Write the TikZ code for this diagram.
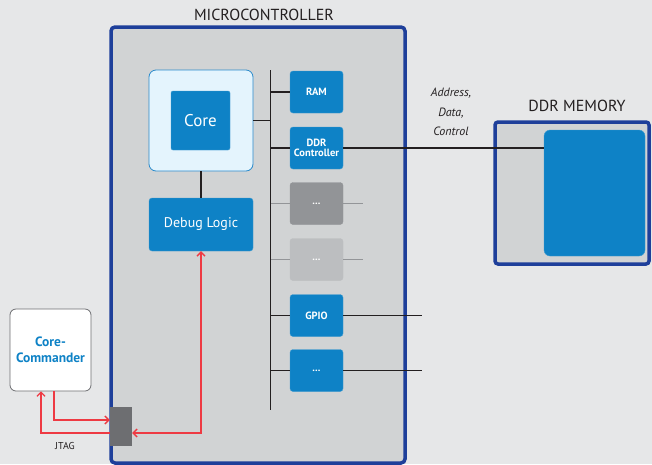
\documentclass[tikz,border=0pt]{standalone}
\usepackage{fontspec}
\setmainfont{PT Sans}
\usetikzlibrary{arrows.meta}
\definecolor{bg}{HTML}{E6E7E8}
\definecolor{mcufill}{HTML}{D1D3D4}
\definecolor{mcuborder}{HTML}{1E3F9A}
\definecolor{blk}{HTML}{0E82C6}
\definecolor{lblue}{HTML}{E4F4FD}
\definecolor{lborder}{HTML}{2A8ACB}
\definecolor{gbox}{HTML}{929497}
\definecolor{gbox2}{HTML}{BCBEC0}
\definecolor{gline}{HTML}{939598}
\definecolor{redl}{HTML}{EE3A43}
\definecolor{jtagc}{HTML}{6D6E71}
\definecolor{txt}{HTML}{231F20}
\begin{document}
\begin{tikzpicture}[x=1pt,y=-1pt,
  bluebox/.style={fill=blk,draw=blk!80!white,rounded corners=3pt,text=white,inner sep=0pt,align=center},
  periph/.style={bluebox,minimum width=53pt,minimum height=42pt,font=\bfseries\fontsize{10.5}{11}\selectfont},
  busline/.style={line width=1.7pt,draw=txt},
  grayline/.style={line width=1.7pt,draw=gline},
  redline/.style={draw=redl,line width=1.3pt,arrows={-Straight Barb[length=4pt,width=8pt]}},
  lbl/.style={text=txt,inner sep=0pt}
]
\fill[bg] (0,0) rectangle (652,464);
\useasboundingbox (0,0) rectangle (652,464);
% Microcontroller
\node[draw=mcuborder,fill=mcufill,line width=3.5pt,rounded corners=4pt,minimum width=294pt,minimum height=436pt,inner sep=0pt] (mcu) at (258,245) {};
\node[lbl,font=\fontsize{16}{18}\selectfont] (mcut) at (264,15) {MICROCONTROLLER};
% DDR memory
\node[draw=mcuborder,fill=mcufill,line width=3.5pt,rounded corners=3pt,minimum width=154pt,minimum height=142pt,inner sep=0pt] (ddrm) at (572,193) {};
\node[lbl,font=\fontsize{16}{18}\selectfont] (ddrt) at (577,106) {DDR MEMORY};
\node[bluebox,rounded corners=6pt,minimum width=101pt,minimum height=126pt] (mem) at (594.5,193) {};
% Core
\node[draw=lborder,fill=lblue,line width=0.8pt,rounded corners=7pt,minimum width=104pt,minimum height=101pt,inner sep=0pt] (coreout) at (201,120.5) {};
\node[bluebox,rounded corners=2pt,minimum width=59pt,minimum height=59pt,font=\fontsize{17}{19}\selectfont] (core) at (200.5,120.5) {Core};
\node[bluebox,minimum width=104pt,minimum height=53pt,font=\fontsize{14}{16}\selectfont] (debug) at (201,224.5) {Debug Logic};
\draw[busline] (coreout.south -| debug.north) -- (debug.north);
% bus
\coordinate (bustop) at (270.5,70);
\coordinate (busbot) at (270.5,410);
\draw[busline] (bustop) -- (busbot);
\draw[busline] (coreout.east) -- (coreout.east -| bustop);
% peripherals
\node[periph] (ram) at (316.5,92) {RAM};
\node[periph] (ddrc) at (316.5,148) {DDR\\[-1pt]Controller};
\node[periph,fill=gbox,draw=gbox] (g1) at (316.5,203.5) {...};
\node[periph,fill=gbox2,draw=gbox2] (g2) at (316.5,259.5) {...};
\node[periph] (gpio) at (316.5,315.5) {GPIO};
\node[periph] (p6) at (316.5,370.5) {...};
\draw[busline] (ram.west) -- (ram.west -| bustop);
\draw[busline] (ddrc.west) -- (ddrc.west -| bustop);
\draw[grayline] (g1.west) -- (g1.west -| bustop);
\draw[grayline] (g2.west) -- (g2.west -| bustop);
\draw[busline] (gpio.west) -- (gpio.west -| bustop);
\draw[busline] (p6.west) -- (p6.west -| bustop);
\coordinate (g1e) at (363,203.5);
\coordinate (g2e) at (363,259.5);
\coordinate (gpioe) at (422,315.5);
\coordinate (p6e) at (422,370.5);
\draw[grayline] (g1.east) -- (g1e);
\draw[grayline] (g2.east) -- (g2e);
\draw[busline] (gpio.east) -- (gpioe);
\draw[busline] (p6.east) -- (p6e);
\draw[busline] (ddrc.east) -- (ddrc.east -| mem.west);
\node[lbl,font=\itshape\fontsize{12}{19.5}\selectfont,align=center] (adc) at (451,112) {Address,\\Data,\\Control};
% Core-Commander
\node[draw=jtagc,fill=white,line width=0.8pt,rounded corners=6pt,minimum width=81pt,minimum height=82pt,inner sep=0pt,align=center,text=blk,font=\bfseries\fontsize{13.5}{16}\selectfont] (cc) at (50.5,350) {Core-\\Commander};
\node[fill=jtagc,minimum width=22pt,minimum height=39pt,inner sep=0pt] (jtag) at (121,426.5) {};
\node[lbl,font=\fontsize{10}{11}\selectfont] (jtagt) at (65,446) {JTAG};
\draw[redline] ([xshift=3.5pt]cc.south) |- ([yshift=6.5pt]jtag.west);
\draw[redline] ([yshift=-6.5pt]jtag.west) -| ([xshift=-9.5pt]cc.south);
\draw[redline,arrows={Straight Barb[length=4pt,width=8pt]-Straight Barb[length=4pt,width=8pt]}] (debug.south) |- ([yshift=-6.5pt]jtag.east);
\end{tikzpicture}
\end{document}
